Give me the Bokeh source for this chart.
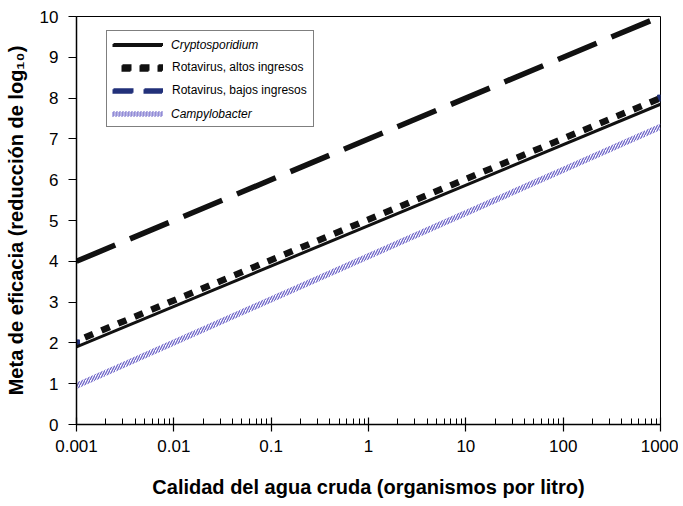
from bokeh.plotting import figure
from bokeh.models import FixedTicker, CustomJSTickFormatter, Legend, LegendItem
from bokeh.embed import file_html
from bokeh.resources import INLINE

# ---- data ----
calidad = [0.001, 1000]                 # organismos por litro
cryptosporidium = [1.9, 7.85]
rotavirus_altos = [2.05, 8.0]
rotavirus_bajos = [2.0, 8.0]
meta_discontinua = [4.0, 10.0]
campylobacter = [0.95, 7.3]

x_ticks = [0.001, 0.01, 0.1, 1, 10, 100, 1000]
y_ticks = [0, 1, 2, 3, 4, 5, 6, 7, 8, 9, 10]

FONT = "Liberation Sans"
NAVY = "#22317a"
HATCH = "#6f66c9"
BAND = 0.08
NAN = float("nan")

p = figure(width=678, height=504, x_axis_type="log",
           x_range=(0.001, 1000), y_range=(0, 10),
           output_backend="svg", toolbar_location=None,
           min_border_left=76, min_border_right=18,
           min_border_top=16, min_border_bottom=80)
p.grid.visible = False
p.outline_line_color = "black"
p.outline_line_width = 1
p.background_fill_color = "white"
p.border_fill_color = "white"

# ---- series ----
r_meta = p.line(calidad, meta_discontinua, line_color="#111111", line_width=5.5,
                line_dash="42 16", line_cap="butt")
r_bajos_pts = p.scatter(calidad, rotavirus_bajos, marker="square", size=6,
                        fill_color=NAVY, line_color=NAVY)
r_campy = p.varea(x=calidad,
                  y1=[v - BAND for v in campylobacter],
                  y2=[v + BAND for v in campylobacter],
                  fill_color=None, fill_alpha=0,
                  hatch_pattern="/", hatch_color=HATCH, hatch_scale=5, hatch_weight=1.3)
r_crypto = p.line(calidad, cryptosporidium, line_color="#111111", line_width=3)
r_altos = p.line(calidad, rotavirus_altos, line_color="#111111", line_width=6.5,
                 line_dash="9 9", line_dash_offset=9, line_cap="butt")

# legend proxies (no visible data)
r_bajos_leg = p.line([NAN], [NAN], line_color=NAVY, line_width=4.5, line_dash="20 11", line_cap="butt")
r_campy_leg = p.line([NAN], [NAN], line_color=HATCH, line_width=5, line_dash="1 2", line_cap="butt")

common = dict(location=(30, 297), glyph_width=50, glyph_height=14, label_height=14,
              spacing=9, padding=6, label_standoff=9, margin=0,
              label_text_font=FONT, label_text_font_size="12px", label_text_color="black")

legend_main = Legend(items=[
    LegendItem(label=" ", renderers=[r_crypto]),
    LegendItem(label="Rotavirus, altos ingresos", renderers=[r_altos]),
    LegendItem(label="Rotavirus, bajos ingresos", renderers=[r_bajos_leg]),
    LegendItem(label=" ", renderers=[r_campy_leg]),
], border_line_color="black", border_line_width=1,
   background_fill_color="white", background_fill_alpha=1, **common)

legend_it = Legend(items=[
    LegendItem(label="Cryptosporidium", renderers=[r_crypto]),
    LegendItem(label=" ", renderers=[r_altos]),
    LegendItem(label=" ", renderers=[r_bajos_leg]),
    LegendItem(label="Campylobacter", renderers=[r_campy_leg]),
], border_line_alpha=0, background_fill_alpha=0,
   label_text_font_style="italic", **common)

p.add_layout(legend_main, "center")
p.add_layout(legend_it, "center")

# ---- axes ----
minor = [m * 10.0 ** e for e in range(-3, 3) for m in range(2, 10)]
xa = p.xaxis[0]
xa.ticker = FixedTicker(ticks=x_ticks, minor_ticks=minor)
xa.formatter = CustomJSTickFormatter(code="return parseFloat(tick.toPrecision(6)).toString();")
xa.major_tick_in = 7
xa.major_tick_out = 7
xa.minor_tick_in = 6
xa.minor_tick_out = 0
xa.major_label_standoff = 8
xa.axis_label = "Calidad del agua cruda (organismos por litro)"
xa.axis_label_standoff = 21

ya = p.yaxis[0]
ya.ticker = FixedTicker(ticks=y_ticks)
ya.major_tick_in = 0
ya.major_tick_out = 8
ya.minor_tick_in = 0
ya.minor_tick_out = 0
ya.major_label_standoff = 10
ya.axis_label = "Meta de eficacia (reducción de log₁₀)"
ya.axis_label_standoff = 10

for ax in (xa, ya):
    ax.axis_line_color = "black"
    ax.axis_line_width = 1.5
    ax.major_tick_line_color = "black"
    ax.minor_tick_line_color = "black"
    ax.major_tick_line_width = 1.2
    ax.major_label_text_font = FONT
    ax.major_label_text_font_size = "17px"
    ax.major_label_text_color = "black"
    ax.axis_label_text_font = FONT
    ax.axis_label_text_font_size = "20px"
    ax.axis_label_text_font_style = "bold"
    ax.axis_label_text_color = "black"

open("out.html", "w").write(file_html(p, INLINE))
